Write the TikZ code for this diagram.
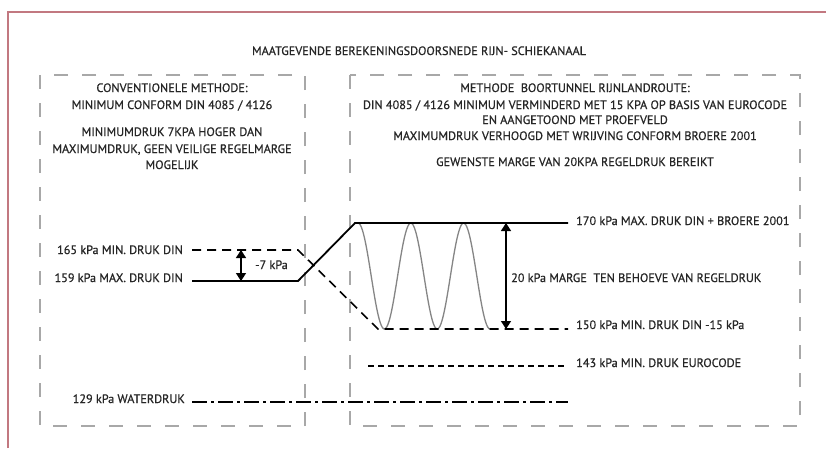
\documentclass[tikz,border=0pt]{standalone}
\usepackage{fontspec}
\setmainfont{PT Sans}[FakeBold=0.6]
\newfontfamily\lblfont{PT Sans}[FakeBold=0.6]
\usetikzlibrary{arrows.meta}
\definecolor{framered}{HTML}{C27880}
\definecolor{boxgray}{HTML}{A8A8A8}
\definecolor{wavegray}{HTML}{858585}
\definecolor{inkgray}{HTML}{262626}
\tikzset{
  lbl/.style={font=\lblfont\fontsize{12.2}{14}\selectfont, inner sep=0pt, text=inkgray},
  ln/.style={font=\lblfont\fontsize{12.2}{14}\selectfont, inner sep=0pt, text=inkgray, anchor=base},
  dbox/.style={draw=boxgray, line width=1.5pt, dash pattern=on 14pt off 14pt},
  solidline/.style={draw=black, line width=1.8pt},
  dashline/.style={draw=black, line width=1.6pt, dash pattern=on 9pt off 6pt},
  shortdash/.style={draw=black, line width=1.5pt, dash pattern=on 6pt off 4pt},
  dashdot/.style={draw=black, line width=1.5pt, dash pattern=on 15pt off 4pt on 3pt off 4pt},
  dim/.style={draw=black, line width=1.5pt, {Triangle[width=10pt,length=8pt]}-{Triangle[width=10pt,length=8pt]}},
}
\begin{document}
\begin{tikzpicture}[x=1pt,y=-1pt]
\useasboundingbox (0,0) rectangle (826,448);
\fill[white] (0,0) rectangle (826,448);
% outer frame
\draw[framered, line width=1.3pt] (8,448) -- (8,12) -- (826,12);
% title
\node[ln] (title) at (419,55) {MAATGEVENDE BEREKENINGSDOORSNEDE RIJN- SCHIEKANAAL};
% dashed boxes
\draw[dbox] (40,75) rectangle (305,426);
\draw[dbox] (350,75) rectangle (800,426);
% left box text
\node[ln] (la1) at (172,92) {CONVENTIONELE METHODE:};
\node[ln] (la2) at (172,109) {MINIMUM CONFORM DIN 4085 / 4126};
\node[ln] (lb1) at (172,136) {MINIMUMDRUK 7KPA HOGER DAN};
\node[ln] (lb2) at (172,153) {MAXIMUMDRUK, GEEN VEILIGE REGELMARGE};
\node[ln] (lb3) at (172,169) {MOGELIJK};
% right box text
\node[ln] (ra1) at (575,92) {METHODE\ \ BOORTUNNEL RIJNLANDROUTE:};
\node[ln] (ra2) at (575,109) {DIN 4085 / 4126 MINIMUM VERMINDERD MET 15 KPA OP BASIS VAN EUROCODE};
\node[ln] (ra3) at (575,124) {EN AANGETOOND MET PROEFVELD};
\node[ln] (ra4) at (575,140) {MAXIMUMDRUK VERHOOGD MET WRIJVING CONFORM BROERE 2001};
\node[ln] (rb1) at (575,166) {GEWENSTE MARGE VAN 20KPA REGELDRUK BEREIKT};
% coordinates
\coordinate (minL) at (192,250);
\coordinate (minK) at (298,250);
\coordinate (minB) at (378,329);
\coordinate (minR) at (568,329);
\coordinate (maxL) at (192,281);
\coordinate (maxK) at (298,281);
\coordinate (maxT) at (355,223);
\coordinate (maxR) at (568,223);
\coordinate (euL) at (368,366);
\coordinate (euR) at (566,366);
\coordinate (waL) at (192,402);
\coordinate (waR) at (568,402);
\coordinate (d7a) at (241,250);
\coordinate (d7b) at (241,281);
\coordinate (d20a) at (506,223);
\coordinate (d20b) at (506,329);
% wave
\draw[wavegray, line width=1.3pt] plot[smooth, variable=\t, domain=0:2.5, samples=120] ({358+52.8*\t}, {276-53*cos(360*\t)});
% pressure lines
\draw[dashline] (minL) -- (minK) -- (minB) -- (minR);
\draw[solidline, line join=miter] (maxL) -- (maxK) -- (maxT) -- (maxR);
\draw[shortdash] (euL) -- (euR);
\draw[dashdot] (waL) -- (waR);
% dimension arrows
\draw[dim] (d7a) -- (d7b);
\draw[dim] (d20a) -- (d20b);
% labels
\node[lbl, anchor=base east] (l165) at (183,254) {165 kPa MIN. DRUK DIN};
\node[lbl, anchor=base east] (l159) at (183,282) {159 kPa MAX. DRUK DIN};
\node[lbl, anchor=base east] (l129) at (185,403) {129 kPa WATERDRUK};
\node[lbl, anchor=base west] (l7) at (255,269) {-7 kPa};
\node[lbl, anchor=base west] (l170) at (576,225) {170 kPa MAX. DRUK DIN + BROERE 2001};
\node[lbl, anchor=base west] (l20) at (511,282) {20 kPa MARGE\ \ TEN BEHOEVE VAN REGELDRUK};
\node[lbl, anchor=base west] (l150) at (576,329) {150 kPa MIN. DRUK DIN -15 kPa};
\node[lbl, anchor=base west] (l143) at (576,367) {143 kPa MIN. DRUK EUROCODE};
\end{tikzpicture}
\end{document}
